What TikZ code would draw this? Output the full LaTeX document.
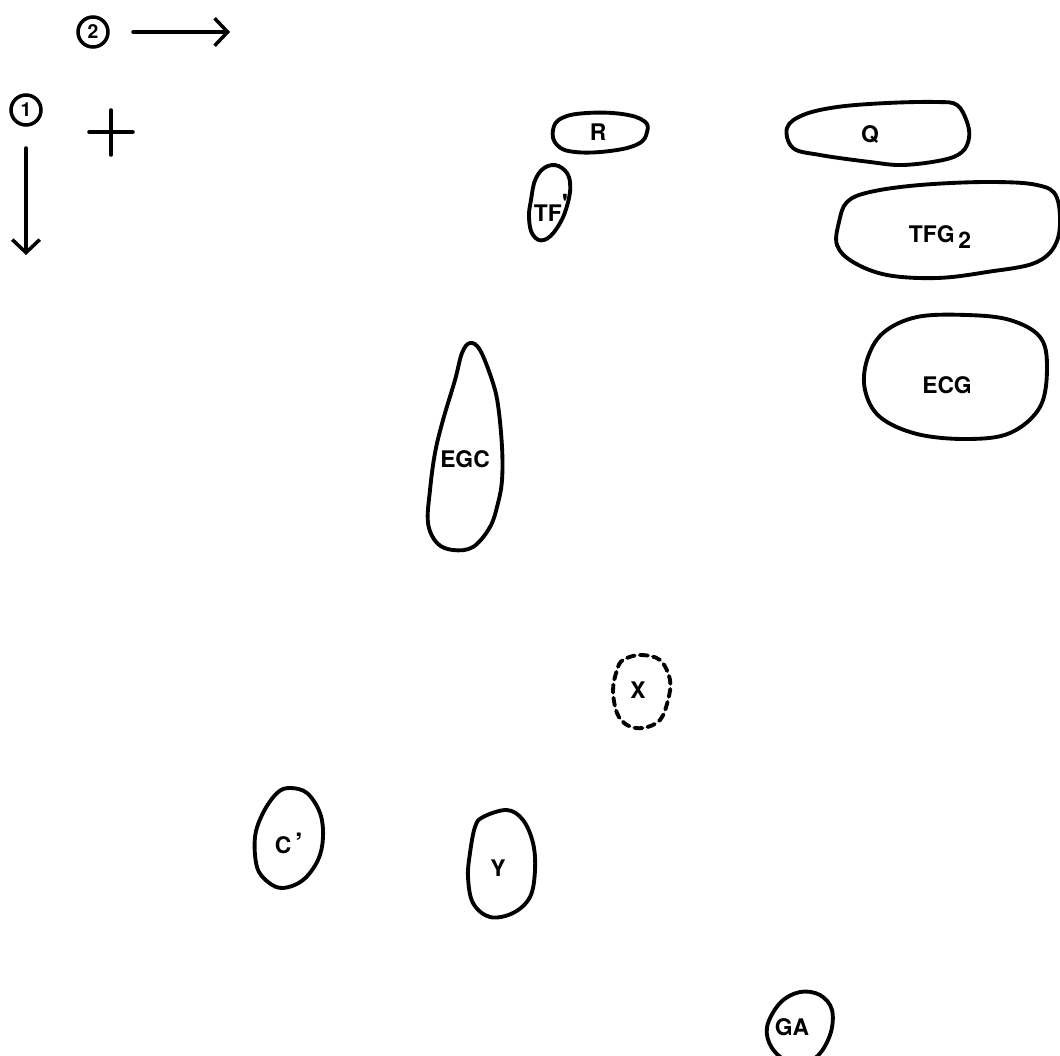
\documentclass[tikz,border=0pt]{standalone}
\usepackage{fontspec}
\setmainfont{TeX Gyre Heros}
\usetikzlibrary{arrows.meta}

\tikzset{
  spot/.style={line width=2.2pt, line join=round},
  faintspot/.style={spot, dash pattern=on 4.5pt off 3pt},
  spotlabel/.style={font=\fontsize{13}{15}\selectfont\bfseries, inner sep=0pt},
  dirnum/.style={draw, circle, line width=2pt, minimum size=0.6cm, inner sep=0pt,
    font=\fontsize{11}{13}\selectfont\bfseries},
  dirarrow/.style={line width=2pt, -{Straight Barb[length=2.6mm,width=5.5mm,line width=2pt]}}
}

\begin{document}
\begin{tikzpicture}[x=0.02cm, y=-0.02cm, line cap=round]
  \clip (0,0) rectangle (1060,1055);

  % directions and origin
  \node[dirnum] (n2) at (93,32) {2};
  \node[dirnum] (n1) at (26,110) {1};
  \coordinate (s2) at (133,32);
  \coordinate (e2) at (230,32);
  \coordinate (s1) at (26,148);
  \coordinate (e1) at (26,255);
  \draw[dirarrow] (s2) -- (e2);
  \draw[dirarrow] (s1) -- (e1);
  \coordinate (origin) at (111,132);
  \draw[line width=2pt] (origin) ++(-22,0) -- ++(44,0)
    (origin) ++(0,-22) -- ++(0,45);

  % spots
  \draw[spot] plot[smooth cycle, tension=0.7] coordinates {(553,130) (562,118) (587,113)
    (622,114) (644,121) (647,132) (638,144) (610,151) (575,152) (557,145)};
  \draw[spot] plot[smooth cycle, tension=0.7] coordinates {(531,200) (536,178) (548,166)
    (562,168) (570,182) (567,206) (557,228) (544,240) (533,235) (529,218)};
  \draw[spot] plot[smooth cycle, tension=0.6] coordinates {(787,128) (803,115) (837,107)
    (887,103) (937,102) (957,105) (967,122) (969,138) (962,152) (943,160) (903,165)
    (870,162) (820,155) (793,148)};
  \draw[spot] plot[smooth cycle, tension=0.6] coordinates {(847,202) (870,192) (920,185)
    (987,182) (1037,185) (1057,198) (1058,238) (1037,262) (987,272) (937,278) (887,275)
    (853,262) (837,245) (839,222)};
  \draw[spot] plot[smooth cycle, tension=0.6] coordinates {(867,360) (883,333) (917,317)
    (967,315) (1010,320) (1040,337) (1047,367) (1040,407) (1010,433) (967,439) (917,434)
    (880,417) (865,390)};
  \draw[spot] plot[smooth cycle, tension=0.6] coordinates {(470,343) (480,350) (492,380)
    (498,405) (502,447) (502,480) (498,503) (490,527) (473,547) (453,550) (437,543)
    (428,523) (430,490) (435,453) (443,420) (455,380) (462,353)};
  \draw[faintspot] plot[smooth cycle, tension=0.6] coordinates {(623,660) (640,655)
    (660,660) (670,680) (668,700) (660,720) (643,728) (627,725) (617,713) (613,690)
    (617,670)};
  \draw[spot] plot[smooth cycle, tension=0.6] coordinates {(290,788) (307,793) (320,813)
    (323,837) (318,860) (303,880) (283,888) (268,882) (257,867) (255,837) (263,813)
    (277,793)};
  \draw[spot] plot[smooth cycle, tension=0.6] coordinates {(483,817) (507,810) (523,820)
    (533,843) (535,870) (530,897) (513,913) (490,917) (473,903) (468,877) (470,853)
    (475,827)};
  \draw[spot] plot[smooth cycle, tension=0.6] coordinates {(780,1003) (800,992) (820,995)
    (832,1010) (830,1035) (815,1058) (790,1062) (772,1048) (767,1027)};

  % labels
  \node[spotlabel] (R) at (598,132) {R};
  \node[spotlabel] (TF) at (551,208) {TF\raisebox{0.6ex}{\fontsize{15}{15}\selectfont\textquotesingle}};
  \node[spotlabel] (Q) at (870,135) {Q};
  \node[spotlabel] (TFG) at (940,237) {TFG\,\raisebox{-0.55ex}{2}};
  \node[spotlabel] (ECG) at (947,385) {ECG};
  \node[spotlabel] (EGC) at (465,459) {EGC};
  \node[spotlabel] (X) at (638,690) {X};
  \node[spotlabel] (Cp) at (289,843) {C\,{\fontsize{16}{16}\selectfont ’}};
  \node[spotlabel] (Y) at (498,868) {Y};
  \node[spotlabel] (GA) at (792,1027) {GA};
\end{tikzpicture}
\end{document}
